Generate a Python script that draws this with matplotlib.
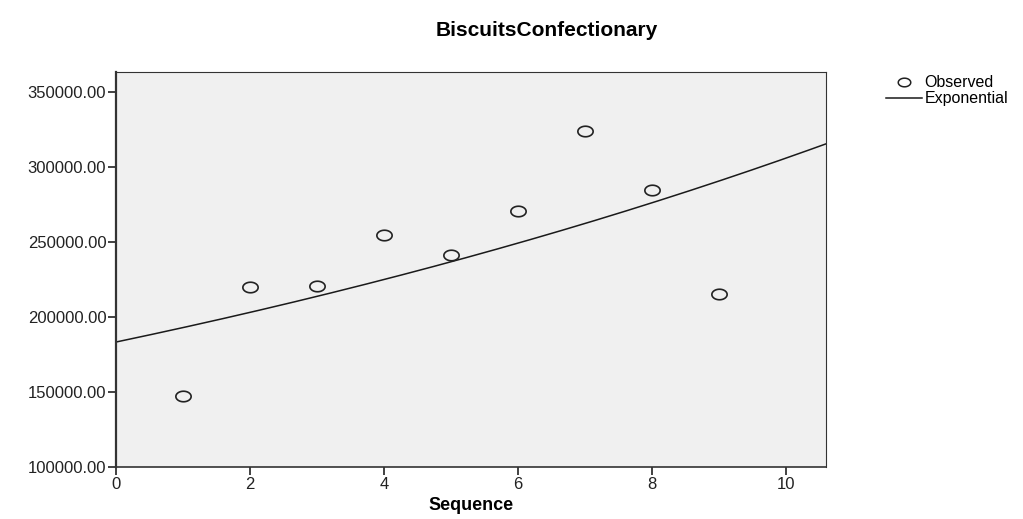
import numpy as np
import matplotlib.pyplot as plt
from matplotlib.path import Path
from matplotlib.lines import Line2D

plt.rcParams['font.family'] = ['Liberation Sans', 'DejaVu Sans']

# Datos observados
sequence = [1, 2, 3, 4, 5, 6, 7, 8, 9]
observed = [147300, 220000, 220700, 254700, 241300, 270700, 324000, 284700, 215300]

# Ajuste exponencial (y = a * exp(b*x)), estimado del gráfico
exp_a = 183300
exp_b = 0.0512

# Marcador elíptico (el original está estirado horizontalmente)
t = np.linspace(0, 2 * np.pi, 60)
ellipse = Path(np.column_stack([1.45 * np.cos(t), np.sin(t)]), closed=True)

fig = plt.figure(figsize=(10.23, 5.19), dpi=100)
ax = fig.add_axes([116 / 1023, 52 / 519, 710 / 1023, 395 / 519])
ax.set_facecolor('#f0f0f0')

x_fit = np.linspace(0, 10.6, 200)
ax.plot(x_fit, exp_a * np.exp(exp_b * x_fit), color='#1a1a1a', lw=1.1)
ax.plot(sequence, observed, linestyle='none', marker=ellipse, markersize=11,
        markerfacecolor='none', markeredgecolor='#222222', markeredgewidth=1.2)

ax.set_xlim(0, 10.6)
ax.set_ylim(100000, 363300)
ax.set_xticks([0, 2, 4, 6, 8, 10])
ax.set_yticks([100000, 150000, 200000, 250000, 300000, 350000])
ax.set_yticklabels([f"{v:.2f}" for v in ax.get_yticks()])

for side in ['left', 'bottom', 'right', 'top']:
    ax.spines[side].set_color('#333333')
ax.spines['left'].set_linewidth(1.6)
ax.spines['bottom'].set_linewidth(1.2)
ax.spines['right'].set_linewidth(0.8)
ax.spines['top'].set_linewidth(0.8)
ax.tick_params(direction='out', length=6, width=1.3, color='#333333',
               labelsize=12, labelcolor='#222222', pad=1)

ax.set_xlabel("Sequence", fontsize=13, fontweight='bold', labelpad=4)
fig.text(547 / 1023, 1 - 30 / 519, "BiscuitsConfectionary", ha='center',
         va='center', fontsize=15, fontweight='bold')

handles = [
    Line2D([], [], linestyle='none', marker=ellipse, markersize=9,
           markerfacecolor='none', markeredgecolor='#222222', markeredgewidth=1.1),
    Line2D([], [], color='#1a1a1a', lw=1.1),
]
fig.legend(handles, ["Observed", "Exponential"], loc='upper left',
           bbox_to_anchor=(880 / 1023, 1 - 69 / 519), frameon=False,
           fontsize=11.5, handlelength=2.2, handletextpad=0.2,
           labelspacing=0.05, borderaxespad=0)

fig.savefig("out.png", dpi=100)
